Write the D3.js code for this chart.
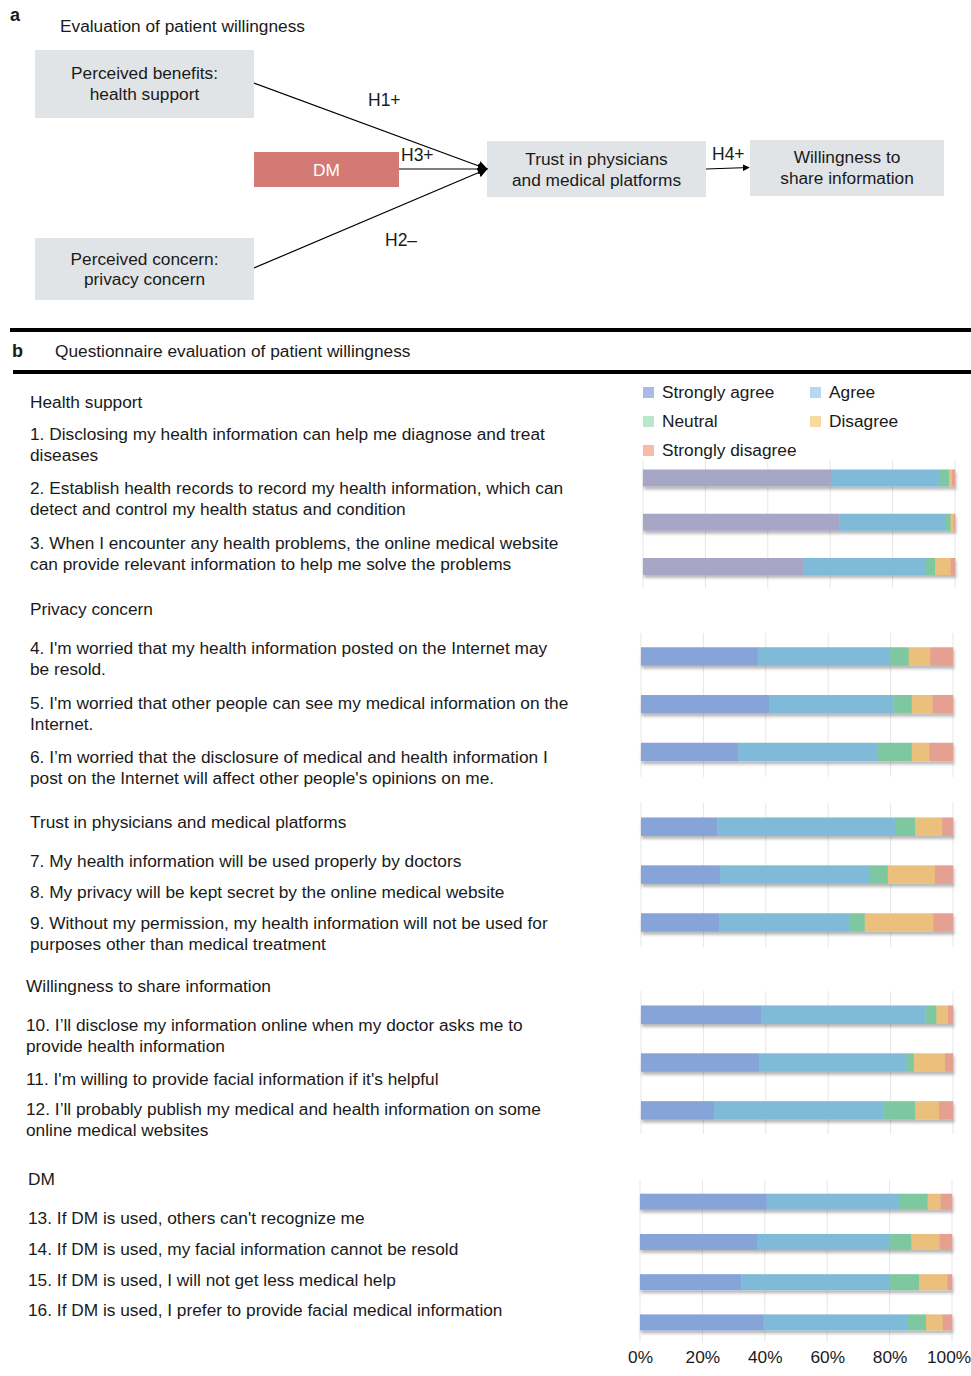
<!DOCTYPE html>
<html><head><meta charset="utf-8">
<script src="https://cdn.jsdelivr.net/npm/d3@7"></script>
<style>
body{margin:0;background:#fff}
svg{display:block}
text{font-family:"Liberation Sans",Arial,Helvetica,sans-serif;fill:#1a1a1a}
</style>
</head><body>
<svg id="c" width="971" height="1376"></svg>
<script>
// ---------------- DATA ----------------
const seriesNames = ["Strongly agree","Agree","Neutral","Disagree","Strongly disagree"];
const sectionTitles = ["Health support","Privacy concern","Trust in physicians and medical platforms","Willingness to share information","DM"];
const sectionItems = [[0,1,2],[3,4,5],[6,7,8],[9,10,11],[12,13,14,15]];
const questions = [
  ["1. Disclosing my health information can help me diagnose and treat","diseases"],
  ["2. Establish health records to record my health information, which can","detect and control my health status and condition"],
  ["3. When I encounter any health problems, the online medical website","can provide relevant information to help me solve the problems"],
  ["4. I'm worried that my health information posted on the Internet may","be resold."],
  ["5. I'm worried that other people can see my medical information on the","Internet."],
  ["6. I\u2019m worried that the disclosure of medical and health information I","post on the Internet will affect other people's opinions on me."],
  ["7. My health information will be used properly by doctors"],
  ["8. My privacy will be kept secret by the online medical website"],
  ["9. Without my permission, my health information will not be used for","purposes other than medical treatment"],
  ["10. I\u2019ll disclose my information online when my doctor asks me to","provide health information"],
  ["11. I'm willing to provide facial information if it's helpful"],
  ["12. I\u2019ll probably publish my medical and health information on some","online medical websites"],
  ["13. If DM is used, others can't recognize me"],
  ["14. If DM is used, my facial information cannot be resold"],
  ["15. If DM is used, I will not get less medical help"],
  ["16. If DM is used, I prefer to provide facial medical information"]
];
const stronglyAgree    = [60.2,62.9,51.3,37.4,41.0,31.2,24.4,25.3,25.1,38.6,37.8,23.4,40.6,37.5,32.4,39.6];
const agree            = [35.0,34.2,39.4,42.5,39.9,44.8,57.0,48.1,41.6,52.5,47.3,54.2,42.6,42.6,47.7,46.2];
const neutral          = [ 3.0, 1.5, 2.9, 5.9, 5.9,10.8, 6.5, 5.7, 5.0, 3.6, 2.3,10.3, 9.0, 6.9, 9.3, 5.9];
const disagree         = [ 0.8, 0.9, 5.0, 6.9, 6.6, 5.6, 8.6,15.1,22.0, 3.7,10.0, 7.6, 4.1, 9.0, 9.1, 5.3];
const stronglyDisagree = [ 1.0, 0.5, 1.4, 7.3, 6.6, 7.6, 3.5, 5.8, 6.3, 1.6, 2.6, 4.5, 3.7, 4.0, 1.5, 3.0];
const tickValues = [0,20,40,60,80,100];
const tickLabels = ["0%","20%","40%","60%","80%","100%"];

// ---------------- STYLE / LAYOUT ----------------
const barColors = ["#87a4d8","#7fbbd9","#7dc8a0","#ebc07c","#e6a091"];
const firstSectionSA = "#a8a6c6";
const legendColors = ["#a9bce8","#b5d9f0","#b8e8c9","#f8d9a0","#f7bba8"];
const sectionLayout = [
  {tx:30, ty:408, x0:643, x1:955, b0:478,   b1:566.5, bh:17,   g0:460, g1:588},
  {tx:30, ty:615, x0:641, x1:953, b0:656.5, b1:752,   bh:18.5, g0:633, g1:777},
  {tx:30, ty:828, x0:641, x1:953, b0:826.7, b1:922.5, bh:18.5, g0:803, g1:947},
  {tx:26, ty:992, x0:641, x1:953, b0:1014.7,b1:1110.4,bh:18.5, g0:991, g1:1134},
  {tx:28, ty:1185,x0:640, x1:952, b0:1201.7,b1:1322.4,bh:16,   g0:1180,g1:1342}
];
const questionY = [440,494,549,654,709,763,867,898,929,1031,1085,1115,1224,1255,1286,1316];
const questionX = [30,30,30,30,30,30,30,30,30,26,26,26,28,28,28,28];
const lineH = 20.5;
const FS = 17.3;

const svg = d3.select("#c");
const defs = svg.append("defs");
const f = defs.append("filter").attr("id","sh").attr("x","-5%").attr("y","-40%").attr("width","110%").attr("height","200%");
f.append("feDropShadow").attr("dx",1).attr("dy",3).attr("stdDeviation",1.6).attr("flood-color","#000").attr("flood-opacity",0.28);
const mk = defs.append("marker").attr("id","arr").attr("viewBox","0 0 10 10").attr("refX",9).attr("refY",5)
  .attr("markerWidth",7).attr("markerHeight",7).attr("markerUnits","userSpaceOnUse").attr("orient","auto");
mk.append("path").attr("d","M0,0 L10,5 L0,10 Z").attr("fill","#000");
const mk2 = defs.append("marker").attr("id","arr2").attr("viewBox","0 0 10 10").attr("refX",9).attr("refY",5)
  .attr("markerWidth",10).attr("markerHeight",10).attr("markerUnits","userSpaceOnUse").attr("orient","auto");
mk2.append("path").attr("d","M0,0 L10,5 L0,10 Z").attr("fill","#000");

// ---------------- PANEL A ----------------
const A = svg.append("g");
A.append("text").attr("x",10).attr("y",21).attr("font-weight","bold").attr("font-size",18).text("a");
A.append("text").attr("x",60).attr("y",32).attr("font-size",FS).text("Evaluation of patient willingness");

const boxes = [
  {x:35,y:50,w:219,h:68,fill:"#e1e4e7",lines:["Perceived benefits:","health support"],ly:[79,100],col:"#1a1a1a"},
  {x:254,y:152,w:145,h:35,fill:"#d47a74",lines:["DM"],ly:[176],col:"#ffffff"},
  {x:35,y:238,w:219,h:62,fill:"#e1e4e7",lines:["Perceived concern:","privacy concern"],ly:[265,285],col:"#1a1a1a"},
  {x:487,y:141,w:219,h:56,fill:"#e1e4e7",lines:["Trust in physicians","and medical platforms"],ly:[165,186],col:"#1a1a1a"},
  {x:750,y:140,w:194,h:56,fill:"#e1e4e7",lines:["Willingness to","share information"],ly:[163,184],col:"#1a1a1a"}
];
boxes.forEach(b=>{
  A.append("rect").attr("x",b.x).attr("y",b.y).attr("width",b.w).attr("height",b.h).attr("fill",b.fill);
  b.lines.forEach((t,i)=>A.append("text").attr("x",b.x+b.w/2).attr("y",b.ly[i]).attr("text-anchor","middle")
    .attr("font-size",FS).style("fill",b.col).text(t));
});
const arrows = [
  [254,83,487,169],[399,169,487,169],[254,268,487,169]
];
arrows.forEach(a=>A.append("line").attr("x1",a[0]).attr("y1",a[1]).attr("x2",a[2]).attr("y2",a[3])
  .attr("stroke","#000").attr("stroke-width",1.2).attr("marker-end","url(#arr2)"));
A.append("line").attr("x1",706).attr("y1",169).attr("x2",749).attr("y2",167.5)
  .attr("stroke","#000").attr("stroke-width",1.2).attr("marker-end","url(#arr)");
[["H1+",368,106],["H3+",401,161],["H2\u2013",385,246],["H4+",712,160]].forEach(l=>
  A.append("text").attr("x",l[1]).attr("y",l[2]).attr("font-size",17.5).text(l[0]));

// ---------------- PANEL B ----------------
svg.append("rect").attr("x",10).attr("y",328).attr("width",961).attr("height",4).attr("fill","#000");
svg.append("rect").attr("x",13).attr("y",370).attr("width",958).attr("height",4).attr("fill","#000");
svg.append("text").attr("x",12).attr("y",357).attr("font-weight","bold").attr("font-size",18).text("b");
svg.append("text").attr("x",55).attr("y",357).attr("font-size",FS).text("Questionnaire evaluation of patient willingness");

// legend
const legendPos = [[643,398],[810,398],[643,427],[810,427],[643,456]];
seriesNames.forEach((n,i)=>{
  const [lx,ly] = legendPos[i];
  svg.append("rect").attr("x",lx).attr("y",ly-11).attr("width",11).attr("height",11).attr("fill",legendColors[i]);
  svg.append("text").attr("x",lx+19).attr("y",ly).attr("font-size",FS).text(n);
});

const series = [stronglyAgree,agree,neutral,disagree,stronglyDisagree];
const rows = questions.map((q,i)=>({i, vals: series.map(s=>s[i])}));

sectionTitles.forEach((title,si)=>{
  const L = sectionLayout[si];
  const g = svg.append("g");
  g.append("text").attr("x",L.tx).attr("y",L.ty).attr("font-size",FS).text(title);
  const x = d3.scaleLinear().domain([0,100]).range([L.x0,L.x1]);
  const y = d3.scalePoint().domain(sectionItems[si]).range([L.b0,L.b1]);
  // gridlines
  g.append("g").selectAll("line").data(tickValues).join("line")
    .attr("x1",d=>x(d)).attr("x2",d=>x(d)).attr("y1",L.g0).attr("y2",L.g1)
    .attr("stroke","#e6e6e6").attr("stroke-width",1);
  // bars
  const bars = g.append("g").selectAll("g").data(sectionItems[si].map(k=>rows[k])).join("g")
    .attr("filter","url(#sh)");
  bars.each(function(r){
    let acc = 0;
    const segs = r.vals.map((v,j)=>{const s={j,a:acc,b:acc+v}; acc+=v; return s;});
    d3.select(this).selectAll("rect").data(segs).join("rect")
      .attr("x",d=>x(d.a)).attr("width",d=>Math.max(0,x(d.b)-x(d.a))+0.3)
      .attr("y",y(r.i)-L.bh/2).attr("height",L.bh)
      .attr("fill",d=>(si===0&&d.j===0)?firstSectionSA:barColors[d.j]);
  });
  // question texts
  sectionItems[si].forEach(k=>{
    questions[k].forEach((line,li)=>g.append("text").attr("x",questionX[k]).attr("y",questionY[k]+li*lineH)
      .attr("font-size",FS).text(line));
  });
  if(si===sectionTitles.length-1){
    const ax = d3.axisBottom(x).tickValues(tickValues).tickFormat((d,i)=>tickLabels[i]).tickSize(0).tickPadding(0);
    const axg = g.append("g").attr("transform","translate(0,1349)").call(ax);
    axg.select(".domain").remove();
    axg.selectAll("text").attr("font-size",FS).attr("font-family",null).style("fill","#1a1a1a").attr("dy","0.8em")
      .attr("dx",(d,i)=> i===tickValues.length-1 ? -3.5 : 0);
  }
});
</script>
</body></html>
